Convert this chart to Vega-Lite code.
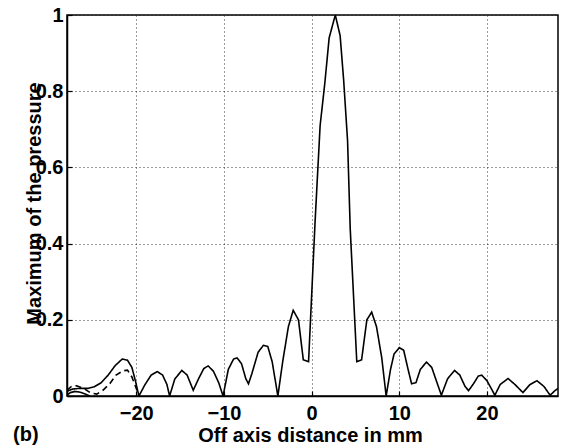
{
  "$schema": "https://vega.github.io/schema/vega-lite/v6.json",
  "autosize": "none",
  "padding": {"left": 67, "top": 15, "right": 4, "bottom": 49},
  "width": 491,
  "height": 381,
  "background": "white",
  "config": {
    "font": "Liberation Sans",
    "view": {"stroke": "black", "strokeWidth": 1.5},
    "axis": {
      "labelFont": "Liberation Sans",
      "titleFont": "Liberation Sans",
      "labelFontSize": 20,
      "labelFontWeight": "bold",
      "titleFontSize": 20,
      "titleFontWeight": "bold",
      "labelColor": "black",
      "titleColor": "black",
      "domainColor": "black",
      "domainWidth": 1.5,
      "tickColor": "black",
      "tickSize": -5,
      "tickWidth": 1.2,
      "gridColor": "#222",
      "gridDash": [1, 3],
      "gridWidth": 1,
      "gridOpacity": 0.9
    }
  },
  "title": {
    "text": "(b)",
    "orient": "bottom",
    "anchor": "start",
    "frame": "group",
    "font": "Liberation Sans",
    "fontSize": 20,
    "fontWeight": "bold",
    "color": "black",
    "dx": -54,
    "offset": -20
  },
  "data": {
    "values": [
      {"x": -27.9, "y": 0.012, "s": "a"}, {"x": -27.3, "y": 0.018, "s": "a"}, {"x": -26.5, "y": 0.02, "s": "a"},
      {"x": -25.5, "y": 0.02, "s": "a"}, {"x": -24.8, "y": 0.024, "s": "a"}, {"x": -24.0, "y": 0.035, "s": "a"},
      {"x": -23.2, "y": 0.055, "s": "a"}, {"x": -22.4, "y": 0.08, "s": "a"}, {"x": -21.6, "y": 0.097, "s": "a"},
      {"x": -21.0, "y": 0.094, "s": "a"}, {"x": -20.5, "y": 0.075, "s": "a"}, {"x": -20.1, "y": 0.04, "s": "a"},
      {"x": -19.7, "y": 0.0, "s": "a"}, {"x": -19.0, "y": 0.03, "s": "a"}, {"x": -18.3, "y": 0.055, "s": "a"},
      {"x": -17.6, "y": 0.064, "s": "a"}, {"x": -17.0, "y": 0.055, "s": "a"}, {"x": -16.5, "y": 0.03, "s": "a"},
      {"x": -16.2, "y": 0.0, "s": "a"}, {"x": -15.6, "y": 0.045, "s": "a"}, {"x": -14.8, "y": 0.067, "s": "a"},
      {"x": -14.2, "y": 0.055, "s": "a"}, {"x": -13.5, "y": 0.015, "s": "a"}, {"x": -12.9, "y": 0.045, "s": "a"},
      {"x": -12.3, "y": 0.072, "s": "a"}, {"x": -11.8, "y": 0.079, "s": "a"}, {"x": -11.2, "y": 0.065, "s": "a"},
      {"x": -10.6, "y": 0.035, "s": "a"}, {"x": -10.1, "y": 0.0, "s": "a"}, {"x": -9.5, "y": 0.07, "s": "a"},
      {"x": -8.9, "y": 0.097, "s": "a"}, {"x": -8.5, "y": 0.1, "s": "a"}, {"x": -8.0, "y": 0.085, "s": "a"},
      {"x": -7.5, "y": 0.045, "s": "a"}, {"x": -7.2, "y": 0.032, "s": "a"}, {"x": -6.8, "y": 0.06, "s": "a"},
      {"x": -6.1, "y": 0.115, "s": "a"}, {"x": -5.5, "y": 0.133, "s": "a"}, {"x": -5.0, "y": 0.13, "s": "a"},
      {"x": -4.5, "y": 0.09, "s": "a"}, {"x": -3.85, "y": 0.0, "s": "a"}, {"x": -3.3, "y": 0.09, "s": "a"},
      {"x": -2.65, "y": 0.182, "s": "a"}, {"x": -2.1, "y": 0.225, "s": "a"}, {"x": -1.5, "y": 0.2, "s": "a"},
      {"x": -0.95, "y": 0.095, "s": "a"}, {"x": -0.35, "y": 0.09, "s": "a"}, {"x": 0.4, "y": 0.46, "s": "a"},
      {"x": 0.97, "y": 0.71, "s": "a"}, {"x": 1.5, "y": 0.82, "s": "a"}, {"x": 2.0, "y": 0.94, "s": "a"},
      {"x": 2.7, "y": 1.0, "s": "a"}, {"x": 3.25, "y": 0.946, "s": "a"}, {"x": 3.65, "y": 0.83, "s": "a"},
      {"x": 4.1, "y": 0.67, "s": "a"}, {"x": 4.4, "y": 0.44, "s": "a"}, {"x": 5.15, "y": 0.09, "s": "a"},
      {"x": 5.7, "y": 0.095, "s": "a"}, {"x": 6.3, "y": 0.2, "s": "a"}, {"x": 6.85, "y": 0.22, "s": "a"},
      {"x": 7.4, "y": 0.182, "s": "a"}, {"x": 8.0, "y": 0.1, "s": "a"}, {"x": 8.5, "y": 0.0, "s": "a"},
      {"x": 9.0, "y": 0.07, "s": "a"}, {"x": 9.4, "y": 0.11, "s": "a"}, {"x": 10.0, "y": 0.127, "s": "a"},
      {"x": 10.5, "y": 0.12, "s": "a"}, {"x": 11.0, "y": 0.07, "s": "a"}, {"x": 11.4, "y": 0.032, "s": "a"},
      {"x": 11.9, "y": 0.035, "s": "a"}, {"x": 12.4, "y": 0.07, "s": "a"}, {"x": 13.1, "y": 0.089, "s": "a"},
      {"x": 13.7, "y": 0.075, "s": "a"}, {"x": 14.3, "y": 0.035, "s": "a"}, {"x": 14.8, "y": 0.002, "s": "a"},
      {"x": 15.5, "y": 0.045, "s": "a"}, {"x": 16.3, "y": 0.067, "s": "a"}, {"x": 16.9, "y": 0.055, "s": "a"},
      {"x": 17.5, "y": 0.025, "s": "a"}, {"x": 17.9, "y": 0.014, "s": "a"}, {"x": 18.4, "y": 0.03, "s": "a"},
      {"x": 19.0, "y": 0.052, "s": "a"}, {"x": 19.4, "y": 0.055, "s": "a"}, {"x": 20.0, "y": 0.04, "s": "a"},
      {"x": 20.9, "y": 0.002, "s": "a"}, {"x": 21.5, "y": 0.03, "s": "a"}, {"x": 22.4, "y": 0.046, "s": "a"},
      {"x": 23.2, "y": 0.03, "s": "a"}, {"x": 24.1, "y": 0.009, "s": "a"}, {"x": 24.9, "y": 0.03, "s": "a"},
      {"x": 25.7, "y": 0.04, "s": "a"}, {"x": 26.5, "y": 0.025, "s": "a"}, {"x": 27.2, "y": 0.002, "s": "a"},
      {"x": 27.75, "y": 0.014, "s": "a"}, {"x": 28.1, "y": 0.02, "s": "a"},
      {"x": -27.9, "y": 0.015, "s": "b"}, {"x": -27.4, "y": 0.025, "s": "b"}, {"x": -26.8, "y": 0.027, "s": "b"},
      {"x": -26.0, "y": 0.02, "s": "b"}, {"x": -25.2, "y": 0.008, "s": "b"}, {"x": -24.5, "y": 0.005, "s": "b"},
      {"x": -23.8, "y": 0.015, "s": "b"}, {"x": -23.0, "y": 0.033, "s": "b"}, {"x": -22.3, "y": 0.055, "s": "b"},
      {"x": -21.5, "y": 0.066, "s": "b"}, {"x": -21.0, "y": 0.068, "s": "b"}, {"x": -20.5, "y": 0.05, "s": "b"},
      {"x": -20.0, "y": 0.02, "s": "b"}, {"x": -19.7, "y": 0.0, "s": "b"},
      {"x": -27.9, "y": 0.003, "s": "c"}, {"x": -27.5, "y": 0.009, "s": "c"}, {"x": -27.0, "y": 0.012, "s": "c"},
      {"x": -26.4, "y": 0.01, "s": "c"}, {"x": -25.8, "y": 0.005, "s": "c"}, {"x": -25.3, "y": 0.0, "s": "c"}
    ]
  },
  "mark": {"type": "line", "color": "black", "strokeWidth": 1.6, "clip": true},
  "encoding": {
    "x": {
      "field": "x", "type": "quantitative",
      "scale": {"domain": [-27.9, 28.1], "nice": false, "zero": false},
      "axis": {
        "values": [-20, -10, 0, 10, 20],
        "grid": true,
        "labelPadding": 12,
        "title": "Off axis distance in mm",
        "titleX": 243,
        "titleY": 45,
        "titleBaseline": "alphabetic",
        "titleAnchor": null,
        "titleAlign": "center"
      }
    },
    "y": {
      "field": "y", "type": "quantitative",
      "scale": {"domain": [0, 1], "nice": false},
      "axis": {
        "values": [0, 0.2, 0.4, 0.6, 0.8, 1],
        "labelExpr": "'' + datum.value",
        "grid": true,
        "labelPadding": 9,
        "title": "Maximum of the pressure",
        "titleX": -23,
        "titleY": 188,
        "titleAngle": -90,
        "titleBaseline": "bottom",
        "titleAlign": "center"
      }
    },
    "detail": {"field": "s", "type": "nominal"},
    "strokeDash": {
      "field": "s", "type": "nominal",
      "scale": {"domain": ["a", "b", "c"], "range": [[1, 0], [6, 4], [1, 0]]},
      "legend": null
    }
  }
}
